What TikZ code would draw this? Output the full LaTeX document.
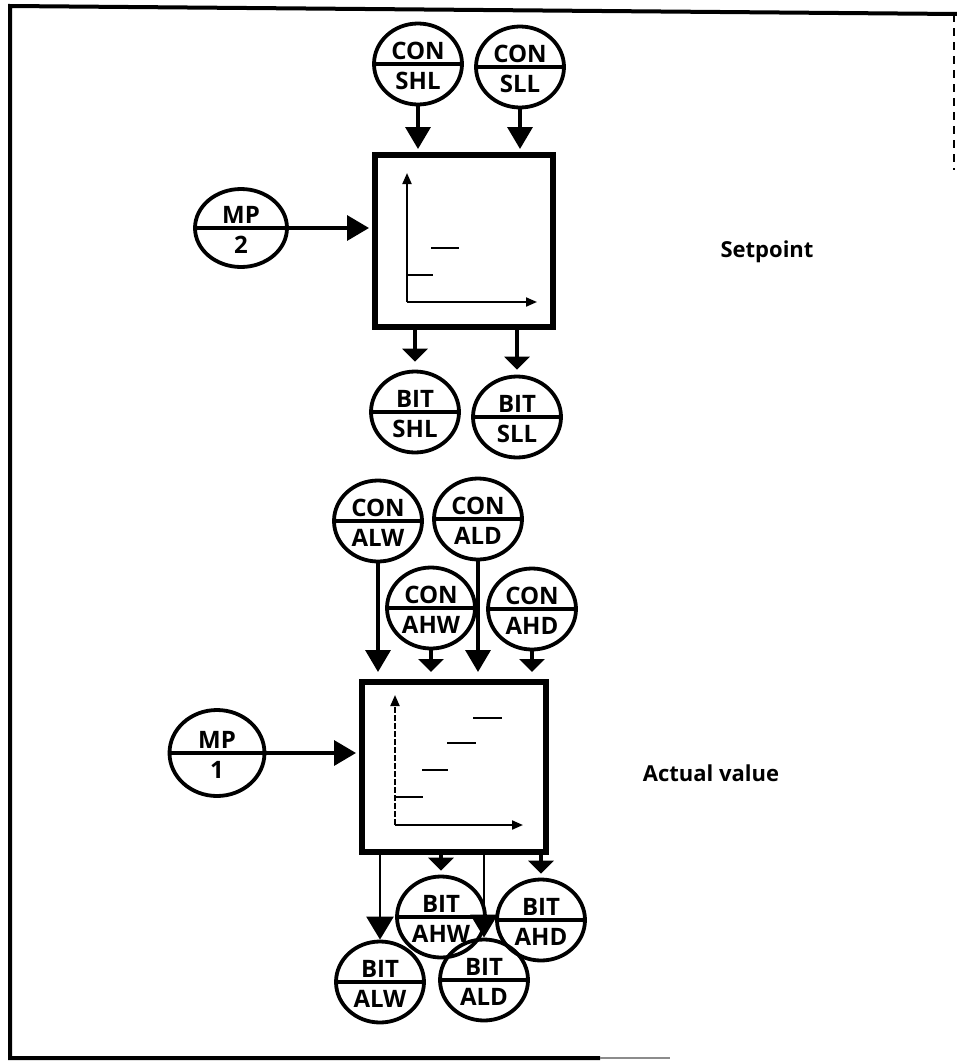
\documentclass[tikz,border=0pt]{standalone}
\usepackage{fontspec}
\setmainfont{Open Sans}
\usetikzlibrary{arrows.meta,shapes.geometric,calc}
\newcommand\splitc[5][]{%
  \node[circ,#1] (#2) at (#3) {};
  \draw[divl] (#2.west) -- (#2.east);
  \node[lbl,anchor=base] (#2-t) at ($(#2)+(0,-5)$) {#4};
  \node[lbl,anchor=base] (#2-b) at ($(#2)+(0,25)$) {#5};
}
\begin{document}
\begin{tikzpicture}[x=1pt,y=-1pt,
  circ/.style={draw, line width=3.8pt, ellipse, inner sep=0pt, minimum width=88pt, minimum height=81pt},
  divl/.style={line width=3.8pt},
  lbl/.style={font=\fontsize{24}{24}\selectfont\bfseries, inner sep=0pt},
  blk/.style={draw, line width=6pt, inner sep=0pt},
  conn/.style={line width=3.5pt, -{Triangle[length=22pt,width=25pt]}},
  sconn/.style={line width=3.5pt, -{Triangle[length=13pt,width=25pt]}},
  lconn/.style={line width=2.5pt, -{Triangle[length=23pt,width=27pt]}},
  axisl/.style={line width=2pt, -{Triangle[length=11pt,width=9pt]}},
  lvl/.style={line width=2pt},
  caption/.style={font=\fontsize{22}{22}\selectfont\bfseries, inner sep=0pt},
  frame/.style={line width=4pt}
]
\useasboundingbox (0,0) rectangle (957,1063);

% frame
\coordinate (f1) at (957,14);
\coordinate (f2) at (10,6);
\coordinate (f3) at (10,1058);
\coordinate (f4) at (600,1058);
\coordinate (f5) at (670,1058);
\coordinate (f6) at (954,14);
\coordinate (f7) at (954,170);
\draw[frame] (f1) -- (f2) -- (f3) -- (f4);
\draw[line width=2pt, black!45] (f4) -- (f5);
\draw[line width=2pt, dash pattern=on 8pt off 6pt] (f6) -- (f7);

% ---------------- Setpoint section
\node[blk, minimum width=178pt, minimum height=172pt] (box1) at (464,241) {};
\splitc{conSHL}{418,64}{CON}{SHL}
\splitc{conSLL}{520,67}{CON}{SLL}
\splitc[minimum width=92pt, minimum height=78pt]{mp2}{241,228}{MP}{2}
\splitc{bitSHL}{415,412}{BIT}{SHL}
\splitc{bitSLL}{517,417}{BIT}{SLL}

\draw[conn, shorten >=3pt] (conSHL.south) -- (conSHL.south |- box1.north);
\draw[conn, shorten >=3pt] (conSLL.south) -- (conSLL.south |- box1.north);
\draw[conn, shorten >=3pt] (mp2.east) -- (mp2.east -| box1.west);
\draw[sconn, shorten >=8pt] (bitSHL.north |- box1.south) -- (bitSHL.north);
\draw[sconn, shorten >=5pt] (bitSLL.north |- box1.south) -- (bitSLL.north);

\coordinate (o1) at (407,302);
\coordinate (y1) at (407,173);
\coordinate (x1) at (537,302);
\draw[axisl] (o1) -- (y1);
\draw[axisl] (o1) -- (x1);
\coordinate (l1a) at (407,275); \coordinate (l1b) at (433,275);
\coordinate (l2a) at (431,248); \coordinate (l2b) at (459,248);
\draw[lvl] (l1a) -- (l1b);
\draw[lvl] (l2a) -- (l2b);

\node[caption] (sp) at (767,252) {Setpoint};

% ---------------- Actual value section
\node[blk, minimum width=184pt, minimum height=170pt] (box2) at (454,767) {};
\splitc{conALW}{378,521}{CON}{ALW}
\splitc{conALD}{478,519}{CON}{ALD}
\splitc{conAHW}{431,608}{CON}{AHW}
\splitc{conAHD}{532,609}{CON}{AHD}
\splitc[minimum width=95pt, minimum height=86pt]{mp1}{217,753}{MP}{1}
\splitc{bitAHW}{441,917}{BIT}{AHW}
\splitc{bitAHD}{541,920}{BIT}{AHD}
\splitc{bitALW}{380,982}{BIT}{ALW}
\splitc{bitALD}{484,980}{BIT}{ALD}

\draw[conn, shorten >=7pt] (conALW.south) -- (conALW.south |- box2.north);
\draw[sconn, shorten >=7pt] (conAHW.south) -- (conAHW.south |- box2.north);
\draw[conn, shorten >=7pt] (conALD.south) -- (conALD.south |- box2.north);
\draw[sconn, shorten >=7pt] (conAHD.south) -- (conAHD.south |- box2.north);
\draw[conn, shorten >=3pt] (mp1.east) -- (mp1.east -| box2.west);

\draw[sconn, shorten >=4pt] (bitAHW.north |- box2.south) -- (bitAHW.north);
\draw[sconn, shorten >=4pt] (bitAHD.north |- box2.south) -- (bitAHD.north);
\draw[lconn] (bitALW.north |- box2.south) -- (bitALW.north);
\draw[lconn] (bitALD.north |- box2.south) -- (bitALD.north);

\coordinate (o2) at (395,825);
\coordinate (y2) at (395,695);
\coordinate (x2) at (523,825);
\draw[axisl, dash pattern=on 6pt off 2pt] (o2) -- (y2);
\draw[axisl] (o2) -- (x2);
\coordinate (m1a) at (395,797); \coordinate (m1b) at (423,797);
\coordinate (m2a) at (422,770); \coordinate (m2b) at (448,770);
\coordinate (m3a) at (447,743); \coordinate (m3b) at (476,743);
\coordinate (m4a) at (473,718); \coordinate (m4b) at (502,718);
\draw[lvl] (m1a) -- (m1b);
\draw[lvl] (m2a) -- (m2b);
\draw[lvl] (m3a) -- (m3b);
\draw[lvl] (m4a) -- (m4b);

\node[caption] (av) at (711,773) {Actual value};
\end{tikzpicture}
\end{document}
